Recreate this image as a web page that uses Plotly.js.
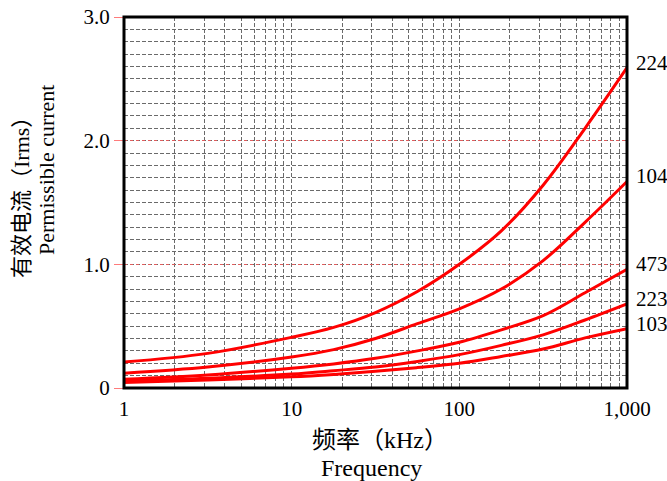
<!DOCTYPE html>
<html>
<head>
<meta charset="utf-8">
<script src="https://cdn.plot.ly/plotly-3.0.1.min.js"></script>
<style>html,body{margin:0;padding:0;background:#fff;}#chart{width:667px;height:481px;}</style>
</head>
<body>
<div id="chart"></div>
<script>
// Frequency (kHz), quarter-decade points
const freq = [1, 3.16, 10, 17.8, 31.6, 56.2, 100, 178, 316, 562, 1000];
// Permissible current (Irms) per capacitance code
const c224 = [0.21, 0.28, 0.41, 0.49, 0.61, 0.78, 1.00, 1.27, 1.64, 2.10, 2.59];
const c104 = [0.12, 0.17, 0.25, 0.31, 0.40, 0.52, 0.64, 0.80, 1.03, 1.34, 1.67];
const c473 = [0.07, 0.105, 0.16, 0.195, 0.24, 0.30, 0.37, 0.47, 0.585, 0.77, 0.96];
const c223 = [0.055, 0.078, 0.113, 0.14, 0.17, 0.215, 0.27, 0.345, 0.43, 0.55, 0.68];
const c103 = [0.045, 0.065, 0.09, 0.11, 0.135, 0.165, 0.20, 0.255, 0.315, 0.405, 0.48];
const seriesNames = ['224', '104', '473', '223', '103'];
const seriesVals = [c224, c104, c473, c223, c103];
const yTickVals = [0, 1, 2, 3];
const yTickText = ['0', '1.0', '2.0', '3.0'];
const xMajor = [1, 10, 100, 1000];
const xMajorText = ['1', '10', '100', '1,000'];
const xTitleCn = '频率（kHz）';
const xTitleEn = 'Frequency';
const yTitleCn = '有效电流（Irms）';
const yTitleEn = 'Permissible current';

const xTickVals = [], xTickText = [];
for (let d = 1; d <= 100; d *= 10) {
  for (let k = 1; k <= 9; k++) {
    const v = k * d;
    xTickVals.push(v);
    const idx = xMajor.indexOf(v);
    xTickText.push(idx >= 0 ? xMajorText[idx] : '');
  }
}
xTickVals.push(1000); xTickText.push('1,000');

const serif = "'Liberation Serif', 'Times New Roman', serif";
const cjk = "'Liberation Serif', 'Noto Sans CJK SC', serif";

const W = 667, H = 481, ML = 124, MR = 40, MT = 17, MB = 93;
const PW = W - ML - MR, PH = H - MT - MB;
const px = x => (x - ML) / PW;
const py = y => (H - MB - y) / PH;

const traces = seriesVals.map((vals, i) => ({
  x: freq, y: vals, type: 'scatter', mode: 'lines',
  name: seriesNames[i],
  line: {color: '#ff0000', width: 3, shape: 'spline', smoothing: 1},
  hoverinfo: 'skip'
}));

const annotations = seriesVals.map((vals, i) => ({
  x: 3, y: vals[vals.length - 1], xref: 'x', yref: 'y',
  text: seriesNames[i], showarrow: false, xanchor: 'left', yanchor: 'middle',
  xshift: 7, yshift: 5,
  font: {family: serif, size: 21, color: '#000'}
}));
const xTitleFont = {family: cjk, size: 24, color: '#000'};
const yTitleFont = {family: cjk, size: 22, color: '#000'};
annotations.push(
  {xref: 'paper', yref: 'paper', x: px(380), y: py(440), text: xTitleCn, showarrow: false,
   xanchor: 'center', yanchor: 'middle', font: xTitleFont},
  {xref: 'paper', yref: 'paper', x: px(371), y: py(468), text: xTitleEn, showarrow: false,
   xanchor: 'center', yanchor: 'middle', font: xTitleFont},
  {xref: 'paper', yref: 'paper', x: px(21), y: py(192), text: yTitleCn, showarrow: false,
   textangle: -90, xanchor: 'center', yanchor: 'middle', font: yTitleFont},
  {xref: 'paper', yref: 'paper', x: px(46), y: py(170), text: yTitleEn, showarrow: false,
   textangle: -90, xanchor: 'center', yanchor: 'middle', font: yTitleFont}
);

const layout = {
  width: W, height: H,
  margin: {l: ML, r: MR, t: MT, b: MB},
  paper_bgcolor: '#fff', plot_bgcolor: '#fff',
  showlegend: false,
  xaxis: {
    type: 'log', range: [0, 3],
    tickmode: 'array', tickvals: xTickVals, ticktext: xTickText,
    showgrid: true, gridcolor: '#6a6a6a', griddash: '4px,2px', gridwidth: 1,
    ticks: '', zeroline: false, showline: false,
    ticklabelstandoff: 6,
    tickfont: {family: serif, size: 21, color: '#000'},
    automargin: false
  },
  yaxis: {
    range: [0, 3],
    tickmode: 'array', tickvals: yTickVals, ticktext: yTickText,
    showgrid: true, gridcolor: 'rgba(255,90,90,0.8)', griddash: 'dot', gridwidth: 1,
    ticks: 'outside', ticklen: 9, tickcolor: 'rgba(255,90,90,0.8)', tickwidth: 1,
    minor: {dtick: 0.1, tick0: 0, showgrid: true, gridcolor: '#6a6a6a', griddash: '4px,2px', gridwidth: 1, ticks: ''},
    zeroline: false, showline: false,
    tickfont: {family: serif, size: 21, color: '#000'},
    automargin: false
  },
  annotations: annotations,
  shapes: [{
    type: 'rect', xref: 'paper', yref: 'paper', x0: 0, x1: 1, y0: 0, y1: 1,
    line: {color: '#000', width: 3}, fillcolor: 'rgba(0,0,0,0)', layer: 'above'
  }]
};

Plotly.newPlot('chart', traces, layout, {displayModeBar: false, staticPlot: true});
</script>
</body>
</html>
